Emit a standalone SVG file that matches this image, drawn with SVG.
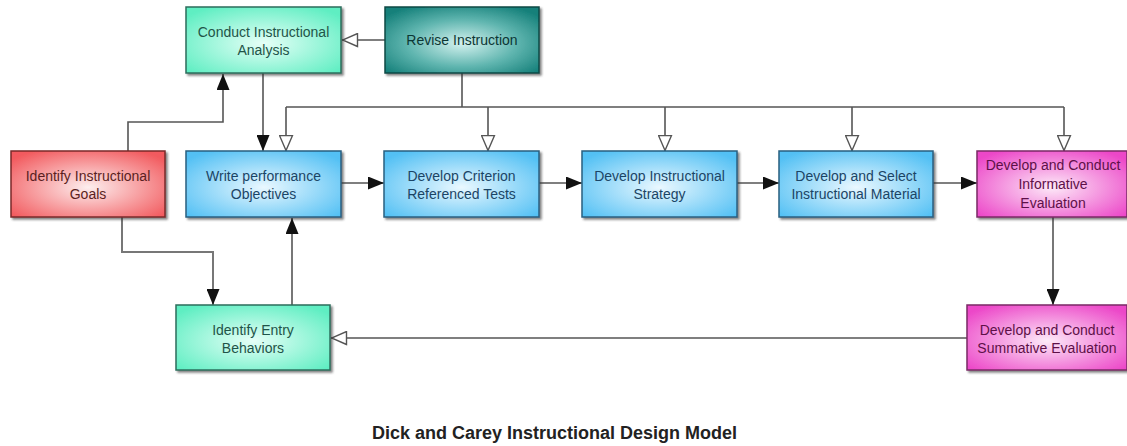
<svg xmlns="http://www.w3.org/2000/svg" width="1127" height="446" viewBox="0 0 1127 446">
<style>
  .box { stroke-width: 1.5; filter: url(#shadow); }
  .lbl { font-family: "Liberation Sans", Arial, sans-serif; font-size: 14px; text-anchor: middle; }
  .teal { fill: url(#gTeal); stroke: #2c6e5c; }
  .teal-t { fill: #1f5448; }
  .dteal { fill: url(#gDark); stroke: #0d4a46; }
  .dteal-t { fill: #0c3634; }
  .red { fill: url(#gRed); stroke: #7a2a2a; }
  .red-t { fill: #5a1f22; }
  .blue { fill: url(#gBlue); stroke: #2a5f80; }
  .blue-t { fill: #1b4566; }
  .pink { fill: url(#gPink); stroke: #7a2a66; }
  .pink-t { fill: #5e1048; }
  .con { fill: none; stroke: #555; stroke-width: 1.6; }
  .title { font-family: "Liberation Sans", Arial, sans-serif; font-size: 18px; font-weight: bold; fill: #222; }
</style>
<defs>
  <radialGradient id="gTeal" cx="50%" cy="55%" r="65%">
    <stop offset="0%" stop-color="#e6fff7"/>
    <stop offset="100%" stop-color="#5eeec2"/>
  </radialGradient>
  <radialGradient id="gDark" cx="50%" cy="55%" r="65%">
    <stop offset="0%" stop-color="#d4f2ef"/>
    <stop offset="55%" stop-color="#5fb5af"/>
    <stop offset="100%" stop-color="#15807a"/>
  </radialGradient>
  <radialGradient id="gRed" cx="50%" cy="55%" r="65%">
    <stop offset="0%" stop-color="#fdeeee"/>
    <stop offset="100%" stop-color="#f25a5e"/>
  </radialGradient>
  <radialGradient id="gBlue" cx="50%" cy="55%" r="65%">
    <stop offset="0%" stop-color="#eaf8ff"/>
    <stop offset="100%" stop-color="#52c0f4"/>
  </radialGradient>
  <radialGradient id="gPink" cx="50%" cy="55%" r="65%">
    <stop offset="0%" stop-color="#fdeaf8"/>
    <stop offset="100%" stop-color="#ec46c8"/>
  </radialGradient>
  <filter id="shadow" x="-5%" y="-5%" width="115%" height="120%">
    <feDropShadow dx="2" dy="2" stdDeviation="1" flood-color="#333" flood-opacity="0.6"/>
  </filter>
  <marker id="aFill" markerUnits="userSpaceOnUse" markerWidth="17" markerHeight="13" refX="16" refY="6.5" orient="auto">
    <path d="M0,0 L16,6.5 L0,13 z" fill="#111"/>
  </marker>
  <marker id="aOpen" markerUnits="userSpaceOnUse" markerWidth="18" markerHeight="15" refX="16.5" refY="7.5" orient="auto">
    <path d="M1,1 L16,7.5 L1,14 z" fill="#fff" stroke="#555" stroke-width="1.4"/>
  </marker>
</defs>

<g id="connectors">
  <path class="con" d="M128,151 V122 H223 V74" marker-end="url(#aFill)"/>
  <path class="con" d="M263,73 V151" marker-end="url(#aFill)"/>
  <path class="con" d="M385,40 H342" marker-end="url(#aOpen)"/>
  <path class="con" d="M462,73 V107"/>
  <path class="con" d="M286,107 H1064"/>
  <path class="con" d="M286,107 V151" marker-end="url(#aOpen)"/>
  <path class="con" d="M488,107 V151" marker-end="url(#aOpen)"/>
  <path class="con" d="M665,107 V151" marker-end="url(#aOpen)"/>
  <path class="con" d="M852,107 V151" marker-end="url(#aOpen)"/>
  <path class="con" d="M1064,107 V151" marker-end="url(#aOpen)"/>
  <path class="con" d="M341,183 H384" marker-end="url(#aFill)"/>
  <path class="con" d="M539,183 H582" marker-end="url(#aFill)"/>
  <path class="con" d="M737,183 H779" marker-end="url(#aFill)"/>
  <path class="con" d="M933,183 H977" marker-end="url(#aFill)"/>
  <path class="con" d="M1053,217 V305" marker-end="url(#aFill)"/>
  <path class="con" d="M967,338 H331" marker-end="url(#aOpen)"/>
  <path class="con" d="M122,217 V252 H213 V305" marker-end="url(#aFill)" style="stroke:#777;stroke-width:2"/>
  <path class="con" d="M292,305 V218" marker-end="url(#aFill)" style="stroke:#777;stroke-width:2"/>
</g>

<g id="conduct">
  <rect class="box teal" x="186" y="7" width="155" height="66"/>
  <text class="lbl teal-t" x="263.5" y="37">Conduct Instructional</text>
  <text class="lbl teal-t" x="263.5" y="55">Analysis</text>
</g>
<g id="revise">
  <rect class="box dteal" x="385" y="7" width="154" height="66"/>
  <text class="lbl dteal-t" x="462" y="45">Revise Instruction</text>
</g>
<g id="goals">
  <rect class="box red" x="11" y="151" width="154" height="66"/>
  <text class="lbl red-t" x="88" y="181">Identify Instructional</text>
  <text class="lbl red-t" x="88" y="199">Goals</text>
</g>
<g id="write">
  <rect class="box blue" x="186" y="151" width="155" height="66"/>
  <text class="lbl blue-t" x="263.5" y="181">Write performance</text>
  <text class="lbl blue-t" x="263.5" y="199">Objectives</text>
</g>
<g id="criterion">
  <rect class="box blue" x="384" y="151" width="155" height="66"/>
  <text class="lbl blue-t" x="461.5" y="181">Develop Criterion</text>
  <text class="lbl blue-t" x="461.5" y="199">Referenced Tests</text>
</g>
<g id="strategy">
  <rect class="box blue" x="582" y="151" width="155" height="66"/>
  <text class="lbl blue-t" x="659.5" y="181">Develop Instructional</text>
  <text class="lbl blue-t" x="659.5" y="199">Strategy</text>
</g>
<g id="material">
  <rect class="box blue" x="779" y="151" width="154" height="66"/>
  <text class="lbl blue-t" x="856" y="181">Develop and Select</text>
  <text class="lbl blue-t" x="856" y="199">Instructional Material</text>
</g>
<g id="informative">
  <rect class="box pink" x="977" y="151" width="150" height="66"/>
  <text class="lbl pink-t" x="1053" y="170">Develop and Conduct</text>
  <text class="lbl pink-t" x="1053" y="189">Informative</text>
  <text class="lbl pink-t" x="1053" y="208">Evaluation</text>
</g>
<g id="entry">
  <rect class="box teal" x="176" y="305" width="154" height="65"/>
  <text class="lbl teal-t" x="253" y="335">Identify Entry</text>
  <text class="lbl teal-t" x="253" y="353">Behaviors</text>
</g>
<g id="summative">
  <rect class="box pink" x="967" y="305" width="160" height="65"/>
  <text class="lbl pink-t" x="1047" y="335">Develop and Conduct</text>
  <text class="lbl pink-t" x="1047" y="353">Summative Evaluation</text>
</g>

<text class="title" x="372" y="439">Dick and Carey Instructional Design Model</text>
</svg>
